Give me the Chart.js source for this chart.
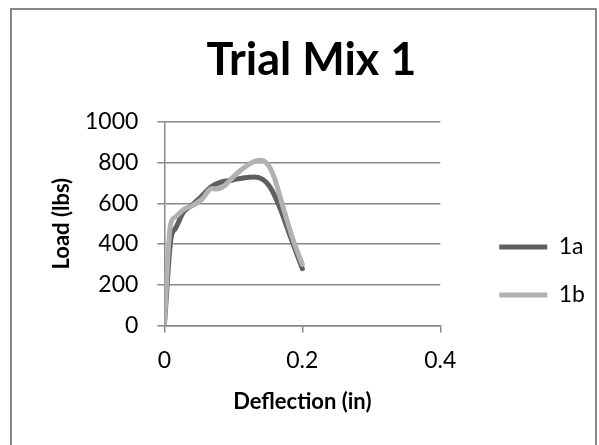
<!DOCTYPE html>
<html>
<head>
<meta charset="utf-8">
<script src="https://cdn.jsdelivr.net/npm/chart.js@4/dist/chart.umd.min.js"></script>
<style>
  html, body { margin: 0; padding: 0; background: #fff; }
  #frame { position: absolute; left: 10px; top: 8px; width: 583px; height: 500px; border: 2px solid #878787; }
  #c { position: absolute; left: 0; top: 0; }
</style>
</head>
<body>
<div id="frame"></div>
<canvas id="c" width="599" height="445"></canvas>
<script>
// Deflection (in) / load (lbs) readings for each specimen
const deflection1a = [0, 0.0096, 0.016, 0.028, 0.040, 0.052, 0.069, 0.083, 0.098, 0.114, 0.131, 0.143, 0.153, 0.165, 0.182, 0.2];
const load1a       = [0, 427, 476, 558, 591, 629, 684, 706, 714, 725, 730, 717, 681, 599, 443, 279];

const deflection1b = [0, 0.0087, 0.016, 0.028, 0.042, 0.054, 0.069, 0.076, 0.086, 0.100, 0.114, 0.126, 0.138, 0.148, 0.158, 0.172, 0.186, 0.2];
const load1b       = [0, 492, 533, 570, 591, 619, 673, 670, 684, 730, 771, 799, 812, 799, 739, 583, 427, 300];

const seriesNames = ['1a', '1b'];
const xTicks = [0, 0.2, 0.4];
const yTicks = [0, 200, 400, 600, 800, 1000];

const pts = (xs, ys) => xs.map((x, i) => ({ x: x, y: ys[i] }));

const FONT = 'Lato, "Open Sans", sans-serif';
const GRID = '#888888';

// Centre the legend in the band between the title and the bottom edge
const legendBand = {
  id: 'legendBand',
  afterLayout(chart) {
    const lg = chart.legend;
    lg.top = 97;
    lg.bottom = chart.height;
    lg.height = lg.bottom - lg.top;
  }
};

new Chart(document.getElementById('c'), {
  type: 'line',
  data: {
    datasets: [
      {
        label: seriesNames[0],
        data: pts(deflection1a, load1a),
        borderColor: '#5f5f5f',
        backgroundColor: '#5f5f5f',
        borderWidth: 5,
        borderCapStyle: 'round',
        borderJoinStyle: 'round',
        pointRadius: 0,
        cubicInterpolationMode: 'monotone',
        order: 1
      },
      {
        label: seriesNames[1],
        data: pts(deflection1b, load1b),
        borderColor: '#b1b1b1',
        backgroundColor: '#b1b1b1',
        borderWidth: 5,
        borderCapStyle: 'round',
        borderJoinStyle: 'round',
        pointRadius: 0,
        cubicInterpolationMode: 'monotone',
        order: 0
      }
    ]
  },
  plugins: [legendBand],
  options: {
    responsive: false,
    animation: false,
    devicePixelRatio: 1,
    layout: { padding: { left: 28, right: 4, top: 0, bottom: 28 } },
    scales: {
      x: {
        type: 'linear',
        min: 0, max: 0.4,
        afterBuildTicks: (s) => { s.ticks = xTicks.map(v => ({ value: v })); },
        grid: { drawOnChartArea: false, drawTicks: true, tickLength: 7, color: GRID, lineWidth: 1.5 },
        border: { display: true, color: GRID, width: 1.5 },
        ticks: { color: '#000', font: { family: FONT, size: 23 }, padding: 14, maxRotation: 0, callback: (v) => String(v) },
        title: { display: true, text: 'Deflection (in)', color: '#000', font: { family: FONT, size: 22, weight: 'bold', lineHeight: 1 }, padding: { top: 3, bottom: 4 } }
      },
      y: {
        min: 0, max: 1000,
        afterBuildTicks: (s) => { s.ticks = yTicks.map(v => ({ value: v })); },
        grid: { drawOnChartArea: true, drawTicks: true, tickLength: 7, color: GRID, lineWidth: 1.5 },
        border: { display: true, color: GRID, width: 1.5 },
        ticks: { color: '#000', font: { family: FONT, size: 23 }, padding: 19, callback: (v) => String(v) },
        title: { display: true, text: 'Load (lbs)', color: '#000', font: { family: FONT, size: 22, weight: 'bold', lineHeight: 1 }, padding: { top: 23, bottom: -7 } }
      },
      // keeps room between the plot and the legend
      gap: {
        position: 'right',
        display: false,
        afterFit: (s) => { s.width = 34; }
      }
    },
    plugins: {
      title: {
        display: true,
        text: 'Trial Mix 1',
        color: '#000',
        font: { family: FONT, size: 45, weight: 'bold' },
        padding: { top: 33, bottom: 35 }
      },
      legend: {
        position: 'right',
        labels: {
          usePointStyle: true,
          pointStyle: 'line',
          pointStyleWidth: 48,
          color: '#000',
          font: { family: FONT, size: 23 },
          padding: 25,
          sort: (a, b) => a.datasetIndex - b.datasetIndex
        }
      },
      tooltip: { enabled: false }
    }
  }
});
</script>
</body>
</html>
